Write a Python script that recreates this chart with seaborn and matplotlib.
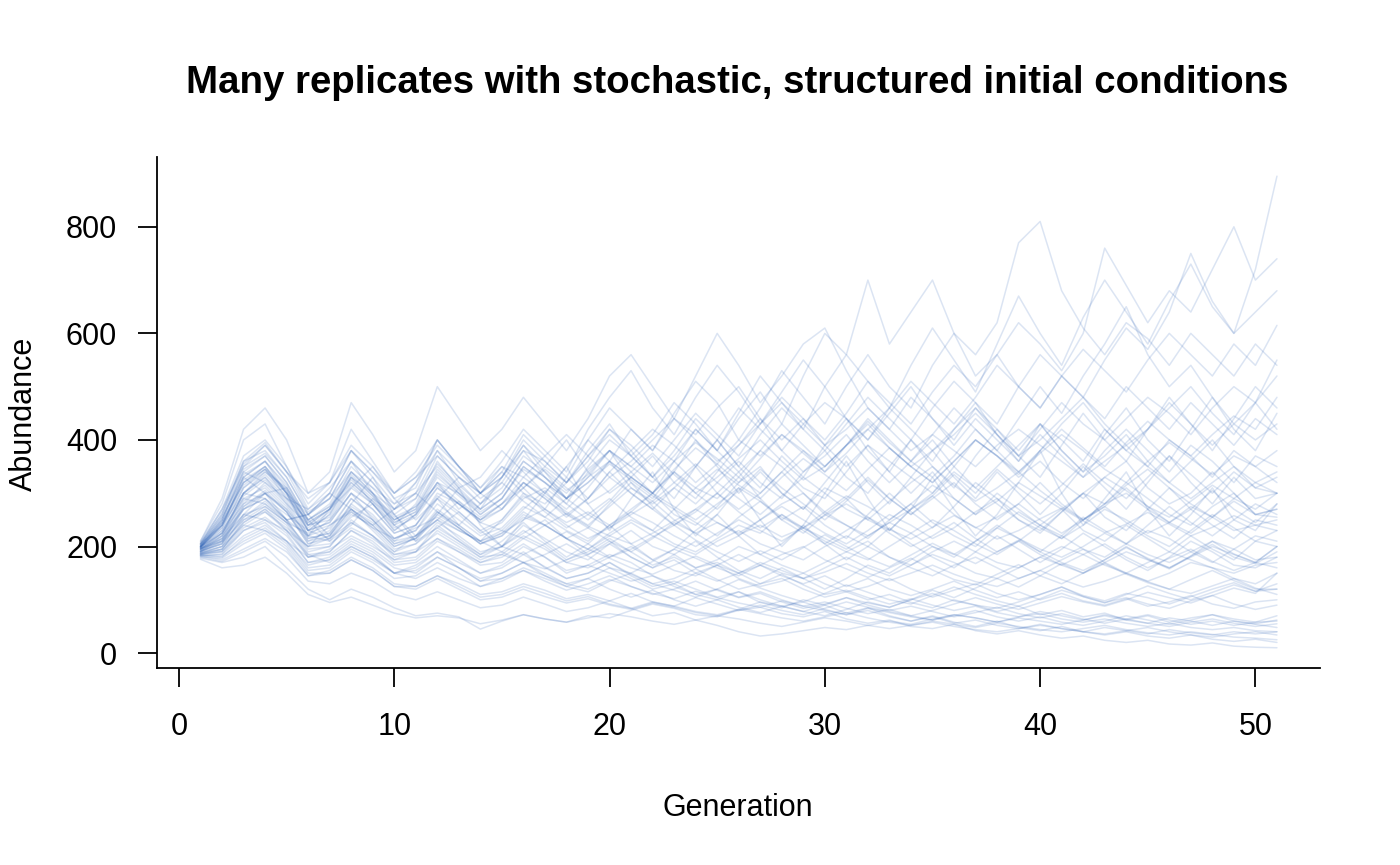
import numpy as np
import pandas as pd
import matplotlib
matplotlib.use("Agg")
import matplotlib.pyplot as plt
import seaborn as sns

# abundance per generation (1..51) for each replicate
rep01 = [198, 240, 320, 350, 300, 220, 270, 340, 300, 240,
         280, 360, 310, 270, 330, 390, 350, 320, 380, 430,
         370, 410, 470, 430, 380, 450, 520, 470, 420, 500,
         560, 510, 460, 540, 610, 550, 490, 580, 670, 600,
         540, 630, 700, 640, 580, 660, 730, 650, 600, 720,
         895]
rep02 = [205, 260, 360, 380, 330, 260, 300, 380, 340, 290,
         310, 400, 350, 300, 340, 410, 370, 330, 400, 460,
         420, 380, 450, 510, 470, 400, 460, 530, 480, 430,
         500, 560, 500, 460, 540, 600, 560, 620, 770, 810,
         680, 610, 560, 620, 590, 540, 600, 560, 520, 580,
         540]
rep03 = [190, 220, 300, 340, 310, 240, 250, 310, 280, 230,
         260, 320, 300, 260, 290, 350, 320, 280, 340, 380,
         340, 300, 360, 420, 380, 440, 490, 430, 520, 600,
         560, 700, 580, 640, 700, 600, 520, 560, 500, 460,
         520, 480, 440, 500, 460, 420, 470, 430, 390, 440,
         410]
rep04 = [200, 250, 340, 370, 320, 250, 280, 350, 310, 260,
         290, 370, 330, 290, 320, 380, 360, 320, 370, 420,
         390, 350, 400, 450, 410, 370, 430, 480, 440, 400,
         450, 510, 470, 430, 490, 540, 500, 560, 620, 580,
         530, 600, 760, 690, 620, 680, 640, 720, 800, 700,
         740]
rep05 = [195, 230, 310, 340, 300, 230, 260, 330, 300, 250,
         270, 340, 300, 270, 300, 360, 330, 290, 350, 400,
         370, 330, 380, 440, 400, 350, 410, 460, 420, 380,
         430, 480, 440, 400, 460, 510, 470, 430, 500, 560,
         520, 480, 550, 610, 570, 640, 750, 660, 600, 640,
         680]
rep06 = [210, 290, 420, 460, 400, 300, 340, 470, 410, 340,
         380, 500, 440, 380, 420, 480, 430, 380, 440, 520,
         560, 500, 440, 520, 600, 540, 470, 520, 580, 610,
         530, 460, 420, 480, 440, 400, 460, 420, 380, 430,
         400, 360, 420, 380, 350, 400, 370, 330, 380, 350,
         320]
rep07 = [185, 190, 230, 250, 220, 170, 180, 210, 190, 160,
         150, 180, 160, 140, 150, 170, 150, 130, 140, 160,
         140, 120, 130, 110, 100, 115, 95, 85, 100, 90,
         75, 85, 70, 60, 70, 58, 50, 60, 48, 42,
         50, 40, 34, 40, 32, 28, 34, 26, 22, 26,
         20]
rep08 = [178, 170, 180, 200, 160, 120, 100, 120, 105, 85,
         70, 75, 68, 45, 60, 72, 64, 58, 70, 66,
         80, 92, 84, 72, 68, 82, 96, 88, 78, 90,
         104, 94, 86, 100, 112, 98, 90, 84, 96, 110,
         124, 108, 98, 112, 104, 92, 106, 120, 132, 116,
         120]
rep09 = [182, 175, 195, 215, 190, 145, 155, 180, 160, 130,
         125, 145, 130, 110, 115, 130, 118, 102, 110, 98,
         112, 96, 88, 104, 92, 80, 86, 74, 68, 78,
         64, 56, 62, 50, 46, 54, 42, 36, 42, 34,
         28, 32, 24, 20, 24, 17, 15, 19, 13, 11,
         10]
rep10 = [196, 215, 290, 310, 270, 210, 230, 290, 260, 215,
         230, 290, 260, 225, 245, 290, 310, 280, 250, 285,
         330, 300, 260, 240, 275, 320, 350, 300, 270, 310,
         290, 250, 230, 270, 300, 340, 310, 280, 250, 230,
         265, 300, 280, 320, 290, 260, 240, 275, 300, 260,
         255]
rep11 = [200, 235, 330, 360, 310, 240, 270, 330, 280, 230,
         260, 320, 270, 300, 350, 310, 270, 330, 290, 340,
         380, 330, 290, 350, 400, 350, 310, 370, 330, 390,
         440, 380, 340, 400, 360, 420, 470, 410, 360, 430,
         380, 340, 410, 460, 400, 360, 420, 480, 420, 380,
         450]
rep12 = [192, 205, 270, 290, 250, 190, 200, 250, 220, 180,
         190, 240, 210, 180, 200, 240, 215, 190, 175, 205,
         230, 200, 185, 160, 175, 200, 185, 165, 150, 170,
         190, 210, 180, 160, 145, 165, 180, 160, 140, 155,
         175, 195, 170, 150, 135, 150, 170, 160, 140, 130,
         150]
rep13 = [188, 200, 260, 300, 270, 220, 210, 260, 240, 200,
         215, 250, 230, 210, 190, 220, 200, 170, 185, 210,
         180, 160, 175, 150, 135, 150, 130, 140, 120, 105,
         115, 100, 110, 95, 85, 100, 90, 78, 88, 72,
         80, 68, 75, 62, 70, 58, 66, 72, 60, 55,
         62]
rep14 = [197, 225, 300, 330, 290, 230, 245, 300, 270, 225,
         240, 300, 280, 250, 270, 320, 290, 255, 290, 340,
         300, 270, 310, 280, 320, 360, 320, 290, 340, 380,
         330, 300, 350, 400, 350, 310, 370, 420, 370, 330,
         390, 450, 400, 360, 420, 480, 430, 380, 440, 500,
         460]
rep15 = [185, 195, 245, 270, 240, 180, 190, 230, 205, 170,
         175, 210, 190, 165, 170, 200, 180, 150, 165, 185,
         170, 145, 130, 150, 165, 140, 125, 135, 150, 130,
         115, 125, 140, 120, 105, 118, 130, 112, 100, 110,
         124, 106, 95, 104, 92, 84, 98, 108, 92, 82,
         90]
rep16 = [202, 255, 350, 375, 330, 260, 290, 360, 320, 270,
         300, 380, 340, 300, 330, 400, 360, 320, 360, 420,
         380, 420, 390, 350, 400, 460, 420, 380, 430, 470,
         440, 400, 460, 510, 470, 430, 480, 540, 500, 460,
         520, 570, 530, 490, 550, 600, 560, 520, 580, 540,
         615]
rep17 = [194, 210, 280, 320, 280, 215, 225, 275, 250, 205,
         215, 260, 235, 205, 220, 255, 240, 215, 195, 225,
         250, 230, 205, 190, 215, 240, 225, 260, 235, 210,
         190, 175, 200, 225, 250, 230, 205, 185, 210, 240,
         220, 195, 180, 205, 230, 215, 190, 170, 195, 220,
         210]
rep18 = [199, 240, 330, 300, 250, 260, 220, 280, 330, 260,
         210, 260, 310, 240, 200, 250, 300, 350, 280, 230,
         290, 340, 270, 220, 260, 310, 250, 200, 240, 300,
         360, 290, 230, 270, 330, 270, 220, 260, 320, 380,
         300, 240, 290, 340, 270, 220, 260, 310, 250, 230,
         280]
rep19 = [183, 185, 220, 240, 210, 165, 175, 200, 180, 150,
         160, 190, 170, 150, 165, 190, 160, 140, 150, 170,
         145, 125, 135, 120, 105, 115, 100, 88, 96, 82,
         72, 80, 68, 60, 68, 56, 62, 52, 46, 54,
         46, 40, 48, 42, 36, 44, 38, 34, 40, 36,
         40]
rep20 = [201, 245, 320, 345, 300, 230, 260, 320, 285, 240,
         260, 310, 280, 250, 280, 330, 300, 270, 310, 360,
         330, 300, 340, 310, 290, 330, 380, 350, 310, 290,
         340, 390, 360, 330, 300, 350, 400, 370, 330, 360,
         320, 290, 330, 360, 310, 280, 300, 340, 300, 260,
         270]
rep21 = [180, 172, 190, 210, 180, 135, 130, 150, 135, 110,
         100, 115, 100, 85, 90, 105, 92, 78, 85, 98,
         84, 70, 76, 62, 52, 40, 32, 36, 42, 48,
         44, 52, 60, 54, 64, 72, 66, 58, 68, 78,
         70, 62, 72, 64, 56, 66, 60, 52, 60, 54,
         48]
rep22 = [206, 270, 370, 400, 350, 270, 300, 380, 330, 280,
         320, 400, 350, 310, 360, 420, 380, 340, 420, 480,
         530, 460, 410, 480, 540, 490, 430, 490, 550, 500,
         440, 400, 450, 500, 440, 390, 440, 400, 360, 410,
         370, 330, 380, 420, 380, 340, 390, 360, 320, 370,
         350]
rep23 = [191, 205, 275, 300, 265, 205, 215, 265, 235, 195,
         205, 245, 220, 190, 200, 230, 205, 175, 190, 215,
         190, 165, 180, 160, 170, 150, 165, 145, 130, 145,
         125, 140, 120, 108, 120, 135, 118, 104, 115, 100,
         112, 98, 90, 102, 88, 96, 108, 92, 84, 96,
         100]
rep24 = [198, 235, 310, 345, 305, 240, 255, 315, 280, 235,
         255, 310, 280, 245, 270, 320, 295, 265, 240, 275,
         310, 285, 320, 355, 320, 290, 260, 295, 330, 300,
         270, 250, 285, 320, 350, 315, 285, 310, 340, 305,
         275, 250, 280, 315, 345, 310, 280, 255, 290, 320,
         300]
rep25 = [176, 160, 165, 180, 150, 110, 95, 105, 90, 75,
         66, 70, 66, 55, 62, 72, 64, 58, 66, 74,
         68, 60, 54, 62, 70, 64, 56, 50, 58, 66,
         60, 52, 46, 52, 58, 50, 44, 40, 46, 52,
         46, 40, 36, 42, 48, 40, 34, 30, 36, 40,
         34]
rep26 = [203, 250, 345, 370, 320, 250, 275, 340, 300, 255,
         275, 345, 305, 270, 300, 360, 330, 300, 345, 380,
         350, 390, 360, 320, 355, 400, 370, 410, 380, 340,
         375, 420, 460, 420, 380, 410, 450, 410, 370, 420,
         470, 430, 400, 440, 480, 450, 410, 460, 500, 470,
         520]
rep27 = [195, 220, 295, 325, 285, 220, 235, 290, 255, 215,
         230, 280, 250, 220, 235, 275, 255, 230, 210, 240,
         265, 245, 220, 200, 225, 250, 230, 210, 235, 215,
         195, 220, 245, 225, 200, 185, 210, 235, 215, 195,
         180, 200, 225, 205, 185, 170, 190, 210, 195, 175,
         180]
rep28 = [200, 240, 325, 350, 305, 235, 265, 330, 295, 245,
         265, 330, 295, 260, 290, 345, 320, 290, 330, 360,
         330, 300, 345, 385, 355, 320, 365, 410, 375, 340,
         390, 435, 395, 360, 410, 460, 420, 380, 440, 500,
         450, 520, 580, 650, 560, 500, 540, 480, 430, 470,
         420]
rep29 = [187, 195, 250, 275, 245, 185, 190, 230, 210, 175,
         180, 215, 195, 170, 180, 205, 180, 155, 165, 150,
         135, 145, 125, 110, 120, 105, 115, 100, 88, 96,
         84, 74, 82, 70, 62, 70, 80, 68, 60, 68,
         58, 52, 60, 70, 62, 54, 62, 72, 64, 58,
         70]
rep30 = [193, 225, 300, 290, 250, 220, 250, 300, 250, 210,
         240, 290, 240, 210, 250, 300, 265, 235, 260, 290,
         255, 230, 270, 245, 220, 255, 285, 250, 225, 260,
         240, 215, 250, 280, 245, 220, 200, 235, 265, 240,
         215, 250, 275, 245, 220, 200, 230, 260, 235, 210,
         230]
rep31 = [184, 180, 215, 235, 205, 155, 160, 190, 170, 140,
         145, 170, 150, 125, 135, 155, 140, 125, 115, 135,
         150, 130, 118, 105, 120, 138, 122, 108, 96, 112,
         128, 114, 100, 92, 108, 124, 110, 98, 88, 102,
         118, 106, 94, 110, 126, 112, 100, 114, 128, 116,
         130]
rep32 = [204, 260, 355, 390, 340, 265, 290, 360, 320, 270,
         290, 355, 315, 280, 310, 370, 340, 305, 335, 380,
         350, 320, 360, 395, 365, 330, 300, 340, 380, 350,
         390, 420, 385, 350, 320, 360, 400, 370, 340, 375,
         410, 380, 345, 320, 360, 395, 365, 335, 370, 350,
         380]
rep33 = [196, 210, 270, 300, 265, 205, 220, 270, 240, 200,
         215, 265, 235, 205, 220, 260, 240, 215, 235, 210,
         190, 215, 245, 225, 200, 220, 250, 275, 250, 225,
         205, 230, 260, 240, 215, 235, 265, 290, 260, 235,
         215, 240, 270, 250, 225, 245, 275, 255, 230, 240,
         250]
rep34 = [181, 178, 205, 225, 195, 145, 150, 175, 155, 125,
         125, 145, 125, 105, 110, 125, 112, 98, 106, 92,
         84, 96, 88, 78, 72, 82, 74, 66, 60, 68,
         76, 66, 58, 52, 60, 54, 48, 56, 50, 44,
         40, 46, 52, 44, 38, 34, 40, 35, 30, 28,
         25]
rep35 = [199, 245, 335, 360, 315, 245, 270, 335, 295, 250,
         270, 335, 300, 265, 290, 350, 320, 290, 320, 355,
         325, 295, 270, 310, 345, 315, 290, 330, 365, 335,
         305, 345, 385, 350, 320, 360, 400, 370, 335, 380,
         420, 385, 350, 395, 435, 400, 370, 410, 445, 420,
         480]
rep36 = [192, 215, 285, 315, 275, 215, 225, 280, 250, 210,
         220, 270, 240, 210, 225, 265, 240, 215, 195, 220,
         245, 220, 200, 185, 210, 230, 205, 190, 175, 200,
         220, 200, 180, 165, 190, 210, 190, 170, 160, 180,
         200, 185, 165, 150, 170, 190, 175, 160, 150, 165,
         170]
rep37 = [186, 190, 235, 255, 225, 170, 175, 205, 185, 150,
         155, 180, 160, 135, 140, 160, 145, 130, 120, 138,
         125, 112, 102, 116, 104, 94, 86, 98, 88, 80,
         72, 84, 76, 68, 62, 72, 66, 58, 66, 60,
         54, 62, 70, 62, 56, 50, 58, 64, 56, 50,
         55]
rep38 = [197, 225, 300, 335, 295, 230, 245, 300, 270, 225,
         240, 295, 265, 230, 250, 295, 270, 245, 265, 240,
         270, 300, 275, 250, 280, 310, 285, 255, 235, 265,
         295, 275, 250, 280, 315, 290, 260, 285, 320, 295,
         270, 300, 330, 305, 275, 255, 285, 315, 290, 270,
         300]
rep39 = [189, 200, 255, 285, 250, 195, 200, 245, 220, 185,
         190, 230, 205, 180, 185, 215, 195, 170, 160, 180,
         200, 175, 155, 145, 165, 185, 165, 150, 140, 160,
         180, 160, 145, 165, 185, 170, 150, 140, 160, 180,
         165, 150, 170, 190, 175, 160, 180, 200, 185, 170,
         200]
rep40 = [183, 182, 210, 230, 200, 150, 150, 175, 155, 125,
         120, 140, 120, 100, 105, 120, 106, 94, 102, 90,
         82, 94, 86, 76, 70, 80, 90, 80, 72, 84,
         96, 86, 78, 70, 80, 92, 104, 92, 82, 94,
         106, 96, 88, 100, 114, 104, 94, 108, 122, 112,
         150]
rep41 = [200, 225, 280, 300, 310, 250, 210, 240, 290, 260,
         220, 250, 285, 245, 230, 270, 305, 260, 235, 280,
         320, 275, 240, 265, 300, 340, 290, 250, 275, 240,
         215, 260, 300, 265, 235, 275, 320, 290, 250, 225,
         265, 300, 255, 230, 270, 310, 270, 240, 215, 250,
         240]
rep42 = [190, 210, 260, 250, 230, 200, 240, 270, 230, 190,
         220, 250, 215, 185, 210, 245, 210, 180, 205, 240,
         205, 175, 195, 230, 260, 220, 185, 205, 240, 205,
         175, 200, 235, 205, 180, 160, 190, 220, 195, 170,
         195, 225, 200, 175, 155, 180, 210, 190, 165, 160,
         180]
rep43 = [205, 240, 300, 330, 280, 240, 270, 310, 350, 290,
         250, 290, 330, 300, 270, 310, 350, 400, 340, 300,
         330, 370, 320, 290, 340, 390, 440, 380, 340, 370,
         410, 360, 320, 360, 400, 350, 310, 350, 390, 430,
         380, 340, 370, 410, 360, 320, 360, 400, 350, 320,
         340]
rep44 = [195, 220, 270, 290, 260, 230, 215, 255, 280, 240,
         210, 235, 265, 230, 200, 225, 250, 215, 185, 205,
         180, 160, 185, 210, 180, 155, 140, 160, 140, 120,
         140, 165, 150, 175, 200, 180, 210, 240, 215, 190,
         220, 255, 230, 205, 240, 275, 245, 220, 250, 280,
         260]
rep45 = [200, 250, 340, 320, 290, 270, 310, 360, 300, 270,
         320, 380, 320, 280, 330, 390, 340, 290, 330, 380,
         320, 290, 340, 400, 350, 300, 340, 300, 270, 320,
         370, 320, 280, 330, 380, 330, 290, 340, 300, 260,
         300, 350, 310, 270, 320, 370, 320, 280, 330, 290,
         300]
rep46 = [187, 200, 240, 230, 210, 180, 195, 220, 200, 175,
         190, 215, 190, 170, 185, 170, 158, 175, 195, 178,
         160, 148, 165, 182, 165, 150, 170, 155, 140, 152,
         168, 150, 136, 150, 165, 148, 134, 125, 140, 155,
         138, 124, 135, 150, 134, 120, 112, 126, 140, 122,
         110]
rep47 = [203, 255, 330, 360, 300, 260, 290, 340, 310, 280,
         300, 350, 310, 330, 380, 340, 300, 350, 400, 360,
         420, 380, 440, 410, 460, 500, 440, 400, 440, 390,
         350, 390, 340, 300, 340, 290, 260, 300, 270, 240,
         270, 230, 210, 240, 215, 190, 220, 195, 175, 210,
         200]
rep48 = [196, 215, 260, 275, 245, 225, 240, 265, 235, 215,
         235, 255, 230, 210, 230, 215, 240, 262, 238, 220,
         205, 225, 248, 270, 245, 222, 240, 218, 235, 258,
         280, 255, 232, 214, 236, 258, 236, 214, 230, 252,
         272, 248, 226, 242, 264, 242, 220, 236, 258, 240,
         230]
rep49 = [188, 195, 245, 270, 230, 185, 170, 200, 180, 150,
         165, 190, 160, 135, 150, 170, 145, 125, 140, 120,
         105, 118, 100, 88, 100, 86, 76, 88, 78, 70,
         82, 96, 86, 100, 118, 104, 122, 140, 124, 145,
         168, 150, 175, 200, 176, 158, 182, 210, 186, 170,
         200]
rep50 = [207, 270, 350, 390, 340, 300, 320, 380, 340, 300,
         330, 370, 330, 300, 340, 300, 280, 320, 370, 410,
         370, 330, 370, 420, 380, 340, 380, 430, 390, 350,
         390, 440, 400, 360, 330, 370, 420, 380, 340, 380,
         430, 470, 420, 380, 420, 470, 430, 390, 430, 400,
         430]
rep51 = [184, 186, 230, 245, 210, 160, 165, 195, 175, 150,
         140, 160, 140, 125, 140, 155, 135, 118, 130, 145,
         125, 110, 120, 135, 118, 104, 112, 96, 84, 92,
         104, 90, 80, 88, 78, 68, 76, 86, 74, 66,
         74, 64, 56, 64, 72, 62, 54, 60, 52, 58,
         60]
rep52 = [198, 240, 315, 345, 290, 250, 275, 320, 285, 250,
         275, 315, 280, 250, 280, 320, 290, 260, 290, 330,
         300, 270, 240, 270, 300, 265, 235, 260, 230, 205,
         230, 255, 225, 200, 220, 245, 215, 190, 210, 185,
         165, 185, 205, 180, 160, 178, 195, 172, 155, 170,
         160]
rep53 = [210, 280, 400, 430, 350, 280, 320, 420, 360, 300,
         340, 400, 350, 300, 330, 380, 330, 290, 320, 360,
         310, 280, 310, 350, 300, 270, 300, 340, 300, 260,
         290, 330, 290, 260, 290, 320, 280, 250, 280, 320,
         280, 250, 275, 310, 275, 245, 270, 305, 270, 245,
         280]
rep54 = [190, 205, 255, 280, 245, 200, 205, 235, 215, 185,
         195, 225, 200, 175, 190, 170, 185, 205, 182, 160,
         150, 172, 195, 178, 160, 145, 165, 185, 200, 175,
         158, 142, 160, 178, 156, 138, 128, 148, 166, 145,
         130, 150, 168, 148, 132, 120, 138, 155, 136, 120,
         120]
rep55 = [201, 245, 320, 350, 300, 245, 270, 325, 290, 245,
         265, 320, 285, 255, 280, 310, 345, 310, 280, 305,
         340, 375, 335, 300, 330, 365, 400, 360, 325, 350,
         390, 430, 385, 350, 380, 420, 460, 410, 370, 400,
         440, 480, 430, 390, 420, 460, 500, 450, 410, 470,
         550]
rep56 = [194, 212, 275, 305, 265, 210, 220, 270, 245, 205,
         220, 265, 235, 205, 225, 250, 270, 240, 215, 235,
         260, 285, 250, 225, 245, 225, 250, 280, 300, 265,
         240, 220, 245, 270, 295, 260, 235, 255, 280, 250,
         225, 250, 280, 300, 270, 245, 225, 255, 285, 260,
         270]
rep57 = [199, 230, 290, 280, 250, 260, 300, 270, 240, 270,
         300, 265, 240, 280, 320, 285, 255, 290, 260, 235,
         265, 300, 340, 300, 270, 305, 345, 310, 280, 250,
         285, 325, 290, 260, 295, 335, 300, 345, 310, 280,
         315, 355, 320, 290, 330, 370, 335, 300, 340, 310,
         330]
rep58 = [186, 192, 240, 265, 230, 180, 185, 215, 195, 165,
         170, 200, 175, 150, 160, 185, 162, 140, 150, 170,
         148, 130, 140, 158, 138, 120, 130, 148, 128, 110,
         118, 104, 92, 102, 90, 80, 88, 76, 68, 74,
         64, 58, 64, 56, 50, 56, 48, 44, 48, 42,
         40]
rep59 = [205, 265, 360, 395, 340, 290, 320, 390, 350, 300,
         330, 390, 350, 310, 350, 330, 370, 410, 370, 330,
         360, 400, 440, 400, 360, 390, 430, 470, 430, 390,
         420, 460, 420, 380, 410, 380, 350, 390, 420, 390,
         360, 330, 360, 390, 350, 320, 290, 320, 350, 310,
         300]
rep60 = [191, 208, 250, 265, 235, 200, 215, 245, 220, 190,
         205, 235, 210, 185, 200, 185, 205, 228, 205, 180,
         195, 218, 240, 212, 190, 172, 192, 175, 198, 222,
         200, 178, 162, 184, 206, 186, 168, 190, 212, 190,
         170, 155, 175, 198, 178, 160, 182, 204, 180, 168,
         190]

replicates = [rep01, rep02, rep03, rep04, rep05, rep06, rep07, rep08, rep09, rep10,
              rep11, rep12, rep13, rep14, rep15, rep16, rep17, rep18, rep19, rep20,
              rep21, rep22, rep23, rep24, rep25, rep26, rep27, rep28, rep29, rep30,
              rep31, rep32, rep33, rep34, rep35, rep36, rep37, rep38, rep39, rep40,
              rep41, rep42, rep43, rep44, rep45, rep46, rep47, rep48, rep49, rep50,
              rep51, rep52, rep53, rep54, rep55, rep56, rep57, rep58, rep59, rep60]

x_ticks = [0, 10, 20, 30, 40, 50]
y_ticks = [0, 200, 400, 600, 800]

# long format table for seaborn
rows = []
for i, vals in enumerate(replicates):
    for gen, val in enumerate(vals, start=1):
        rows.append({'replicate': i, 'generation': gen, 'abundance': val})
df = pd.DataFrame(rows)

sns.set_style('ticks')
plt.rcParams['font.family'] = ['Liberation Sans', 'DejaVu Sans']
plt.rcParams['text.color'] = 'black'

W, H = 1400, 865
fig = plt.figure(figsize=(W / 100, H / 100), dpi=100)
ax = fig.add_axes([157 / W, (H - 668) / H, (1320 - 157) / W, (668 - 157) / H])

sns.lineplot(data=df, x='generation', y='abundance', units='replicate',
             estimator=None, color='#2f64b8', alpha=0.17, lw=1.1,
             legend=False, ax=ax)

ax.set_xlim(-1.02, 53)
ax.set_ylim(-28, 931)
ax.set_xticks(x_ticks)
ax.set_yticks(y_ticks)
ax.set_xlabel('')
ax.set_ylabel('')

for side in ['top', 'right']:
    ax.spines[side].set_visible(False)
for side in ['left', 'bottom']:
    ax.spines[side].set_linewidth(1.3)
    ax.spines[side].set_color('black')

ax.tick_params(axis='both', length=13.7, width=1.3, color='black',
               labelsize=22, labelcolor='black')
ax.tick_params(axis='x', pad=18)
ax.tick_params(axis='y', pad=15)

fig.text(737 / W, 1 - 93 / H, 'Many replicates with stochastic, structured initial conditions',
         ha='center', va='baseline', fontsize=27.6, fontweight='bold', color='black')
fig.text(738 / W, 1 - 816 / H, 'Generation', ha='center', va='baseline',
         fontsize=22, color='black')
fig.text(24 / W, 1 - 414 / H, 'Abundance', ha='center', va='center', rotation=90,
         fontsize=22, color='black')

fig.savefig('out.png', dpi=100)
